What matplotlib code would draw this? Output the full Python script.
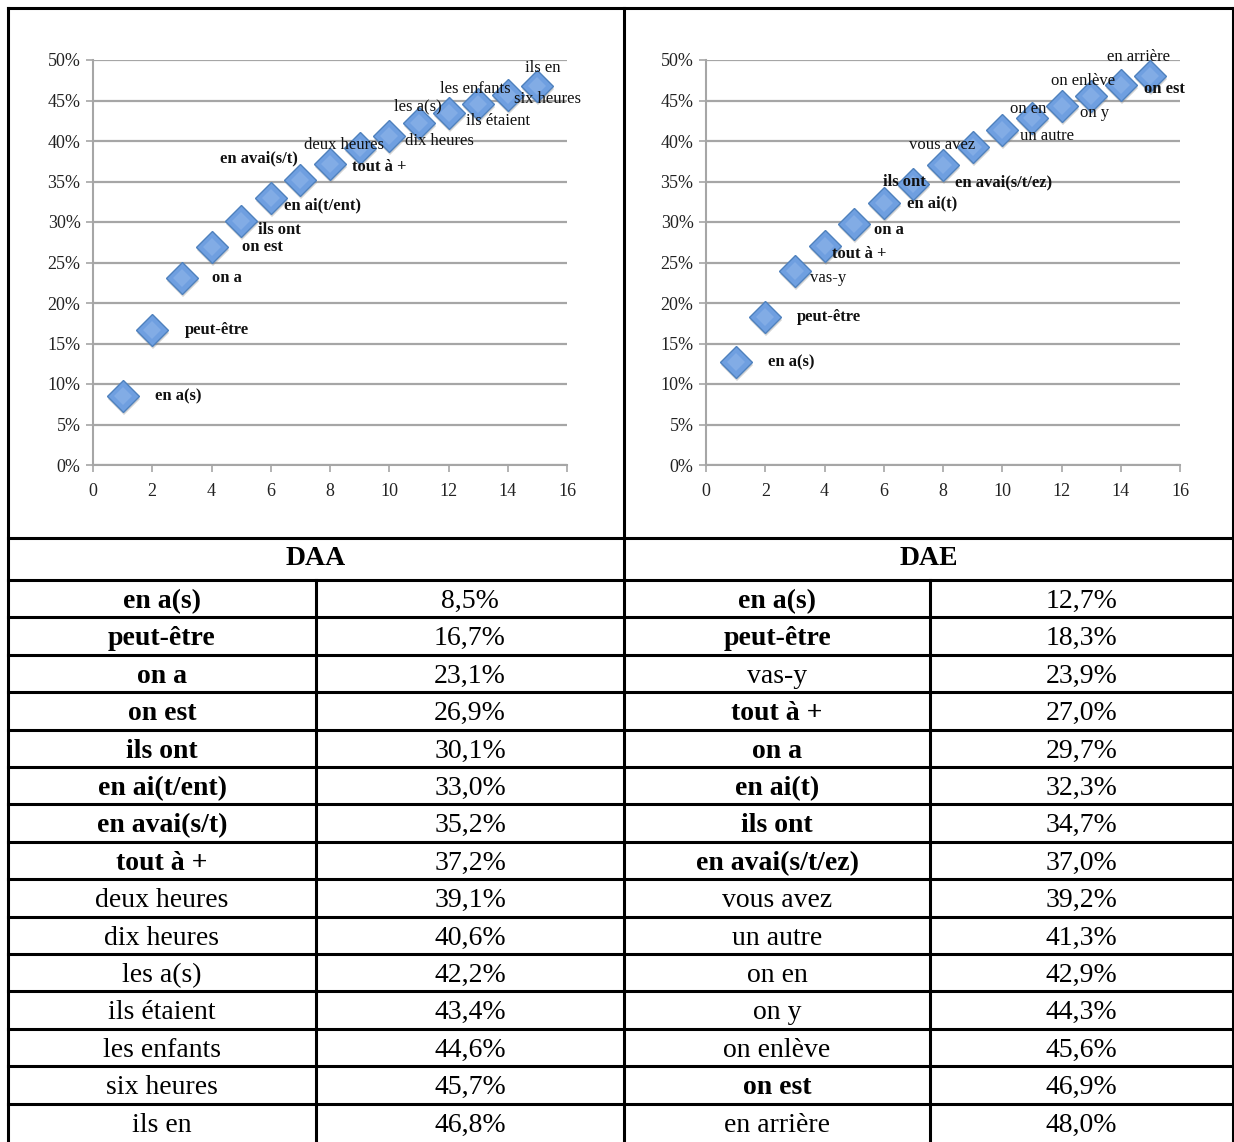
import matplotlib.pyplot as plt
from matplotlib.transforms import offset_copy

# ranks 1..15 for both corpora
ranks = list(range(1, 16))

daa_phrases = ['en a(s)', 'peut-être', 'on a', 'on est', 'ils ont', 'en ai(t/ent)',
               'en avai(s/t)', 'tout à +', 'deux heures', 'dix heures', 'les a(s)',
               'ils étaient', 'les enfants', 'six heures', 'ils en']
daa_values = [8.5, 16.7, 23.1, 26.9, 30.1, 33.0, 35.2, 37.2, 39.1, 40.6, 42.2,
              43.4, 44.6, 45.7, 46.8]
daa_bold = [True] * 8 + [False] * 7

dae_phrases = ['en a(s)', 'peut-être', 'vas-y', 'tout à +', 'on a', 'en ai(t)',
               'ils ont', 'en avai(s/t/ez)', 'vous avez', 'un autre', 'on en',
               'on y', 'on enlève', 'on est', 'en arrière']
dae_values = [12.7, 18.3, 23.9, 27.0, 29.7, 32.3, 34.7, 37.0, 39.2, 41.3, 42.9,
              44.3, 45.6, 46.9, 48.0]
dae_bold = [True, True, False, True, True, True, True, True, False, False, False,
            False, False, True, False]

x_ticks = [0, 2, 4, 6, 8, 10, 12, 14, 16]
y_ticks = [0, 5, 10, 15, 20, 25, 30, 35, 40, 45, 50]

# label offsets in pixels (dx, dy, ha)
daa_pos = [(32, 0, 'left'), (33, 0, 'left'), (30, 0, 'left'), (31, 0, 'left'),
           (17, -9, 'left'), (13, -8, 'left'), (-2, 21, 'right'), (22, -3, 'left'),
           (24, 3, 'right'), (16, -5, 'left'), (23, 17, 'right'), (17, -8, 'left'),
           (32, 15, 'right'), (6, -4, 'left'), (23, 18, 'right')]
dae_pos = [(32, 0, 'left'), (32, 0, 'left'), (15, -7, 'left'), (8, -8, 'left'),
           (20, -6, 'left'), (23, 0, 'left'), (12, 2, 'right'), (12, -17, 'left'),
           (3, 2, 'right'), (18, -6, 'left'), (14, 9, 'right'), (19, -7, 'left'),
           (24, 15, 'right'), (23, -4, 'left'), (20, 19, 'right')]

W, H = 1234, 1142
fig = plt.figure(figsize=(W / 100, H / 100), dpi=100)
serif = 'Liberation Serif'
grid_c = '#a6a6a6'


def scatter_panel(left_px, values, phrases, bold, pos):
    ax = fig.add_axes([left_px / W, (H - 465) / H, 474 / W, 405 / H])
    ax.set_xlim(0, 16)
    ax.set_ylim(0, 50)
    ax.set_xticks(x_ticks)
    ax.set_yticks(y_ticks)
    ax.set_xticklabels([str(t) for t in x_ticks], family=serif, fontsize=13)
    ax.set_yticklabels([f'{t}%' for t in y_ticks], family=serif, fontsize=13)
    ax.tick_params(axis='both', colors=grid_c, labelcolor='#222222', length=5, width=1.2)
    ax.tick_params(axis='x', pad=8)
    ax.tick_params(axis='y', pad=4)
    for s in ('top', 'right'):
        ax.spines[s].set_visible(False)
    for s in ('left', 'bottom'):
        ax.spines[s].set_color(grid_c)
        ax.spines[s].set_linewidth(1.5)
    ax.yaxis.grid(True, color=grid_c, lw=1.6)
    ax.set_axisbelow(True)

    # soft drop shadow under the diamonds
    shadow = offset_copy(ax.transData, fig=fig, x=1, y=-3, units='dots')
    ax.plot(ranks, values, 'D', ms=16, color='#7f7f7f', alpha=0.35, mew=0,
            transform=shadow, zorder=2)
    ax.plot(ranks, values, 'D', ms=16, markerfacecolor='#6f9fe0',
            markeredgecolor='#4f81bd', mew=1.0, zorder=3)
    ax.plot(ranks, values, 'D', ms=9, markerfacecolor='#8fb6ea', mew=0,
            alpha=0.6, zorder=3)
    for x, v, txt, b, (dx, dy, ha) in zip(ranks, values, phrases, bold, pos):
        ax.annotate(txt, (x, v), xytext=(dx, dy), textcoords='offset pixels',
                    ha=ha, va='center', family=serif, fontsize=12,
                    fontweight='bold' if b else 'normal', color='#111111', zorder=4)
    return ax


scatter_panel(93, daa_values, daa_phrases, daa_bold, daa_pos)
scatter_panel(706, dae_values, dae_phrases, dae_bold, dae_pos)

# frame and table drawn in pixel coordinates
bg = fig.add_axes([0, 0, 1, 1], zorder=-1)
bg.set_xlim(0, W)
bg.set_ylim(H, 0)
bg.axis('off')
lw = 2.2
top, head_top, head_bot, row_h = 8, 538, 580, 37.4
cols = [8, 316, 624, 930, 1233]

bg.plot([8, W], [top, top], color='black', lw=lw)
for y in [head_top, head_bot] + [head_bot + i * row_h for i in range(1, 15)]:
    bg.plot([8, W], [y, y], color='black', lw=lw)
bg.plot([8, 8], [top, H], color='black', lw=lw)
bg.plot([624, 624], [top, H], color='black', lw=lw)
bg.plot([1233, 1233], [top, H], color='black', lw=lw)
bg.plot([316, 316], [head_bot, H], color='black', lw=lw)
bg.plot([930, 930], [head_bot, H], color='black', lw=lw)

fs = 20
bg.text((cols[0] + cols[2]) / 2, head_top + 27, 'DAA', ha='center',
        va='baseline', family=serif, fontsize=fs, fontweight='bold')
bg.text((cols[2] + cols[4]) / 2, head_top + 27, 'DAE', ha='center',
        va='baseline', family=serif, fontsize=fs, fontweight='bold')

for i in range(15):
    yb = head_bot + i * row_h + 28
    for c0, phrases, values, bold in ((0, daa_phrases, daa_values, daa_bold),
                                      (2, dae_phrases, dae_values, dae_bold)):
        bg.text((cols[c0] + cols[c0 + 1]) / 2, yb, phrases[i], ha='center', va='baseline',
                family=serif, fontsize=fs, fontweight='bold' if bold[i] else 'normal')
        bg.text((cols[c0 + 1] + cols[c0 + 2]) / 2, yb,
                f'{values[i]:.1f}%'.replace('.', ','), ha='center', va='baseline',
                family=serif, fontsize=fs)

fig.savefig('out.png', dpi=100)
